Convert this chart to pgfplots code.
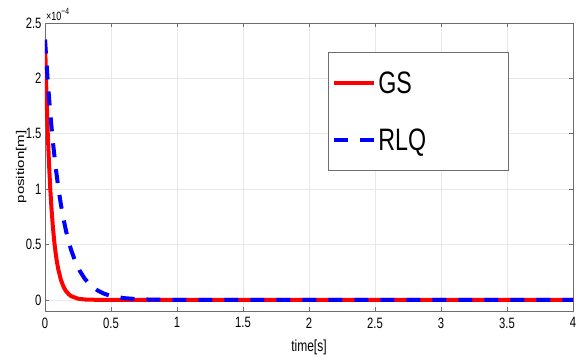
\documentclass[border=0pt]{standalone}
\usepackage{fontspec}
\setmainfont{Liberation Sans}[FakeStretch=0.75]
\newfontfamily\plainfont{Liberation Sans}
\usepackage{pgfplots}
\pgfplotsset{compat=1.18}
\definecolor{axgray}{RGB}{110,110,110}
\begin{document}
\begin{tikzpicture}
\begin{axis}[
  scale only axis, width=528pt, height=288pt,
  xmin=0, xmax=4, ymin=-0.1, ymax=2.5,
  xtick={0,0.5,...,4}, ytick={0,0.5,...,2.5},
  grid=major, major grid style={gray!18, line width=0.6pt},
  axis line style={axgray, line width=0.8pt},
  tick style={axgray, line width=0.8pt}, tick align=inside, major tick length=4pt,
  ticklabel style={font=\fontsize{15}{17}\selectfont},
  /pgf/number format/assume math mode=true,
  xticklabel style={yshift=-3pt},
  xlabel={time[s]}, ylabel={\scalebox{1}[0.75]{position[m]}},
  xlabel style={font=\fontsize{16}{18}\selectfont, at={(axis description cs:0.5,-0.125)}, anchor=center},
  ylabel style={font=\plainfont\fontsize{15}{17}\selectfont, at={(axis description cs:-0.045,0.5)}, anchor=center},
  legend style={at={(rel axis cs:0.536,0.899)}, anchor=north west, draw=axgray, line width=0.8pt, fill=white,
    font=\fontsize{31}{35}\selectfont, inner xsep=4pt, inner ysep=17pt, row sep=30pt, cells={anchor=west}},
  legend image code/.code={\draw[#1] (0pt,0pt) -- (40pt,0pt);},
]
\addplot[red, line width=4pt] coordinates {
(0,2.35) (0.01,1.900) (0.02,1.535) (0.03,1.241) (0.04,1.003) (0.05,0.811)
(0.06,0.655) (0.07,0.530) (0.08,0.428) (0.09,0.346) (0.10,0.280) (0.12,0.183)
(0.14,0.119) (0.16,0.078) (0.18,0.051) (0.20,0.033) (0.25,0.0115) (0.30,0.004)
(0.40,0.0005) (0.5,0) (4,0)};
\addlegendentry{\makebox[124pt][l]{GS}}
\addplot[blue, line width=4pt, dash pattern=on 14pt off 12pt] coordinates {
(0,2.35) (0.02,1.989) (0.04,1.684) (0.06,1.425) (0.08,1.206) (0.10,1.021)
(0.12,0.865) (0.14,0.732) (0.16,0.619) (0.18,0.524) (0.20,0.444) (0.23,0.346)
(0.26,0.269) (0.30,0.193) (0.35,0.127) (0.40,0.084) (0.45,0.055) (0.50,0.036)
(0.6,0.016) (0.7,0.0069) (0.8,0.003) (1.0,0.0006) (1.2,0) (4,0)};
\addlegendentry{\makebox[124pt][l]{RLQ}}
\end{axis}
\node[anchor=south west, inner sep=0pt, font=\fontsize{12}{13}\selectfont] at ([shift={(1pt,2pt)}]current axis.north west) {×10\raisebox{6pt}{\fontsize{9}{9}\selectfont −4}};
\pgfresetboundingbox
\path ([shift={(-45pt,-45pt)}]current axis.south west) rectangle ([shift={(13pt,23pt)}]current axis.north east);
\end{tikzpicture}
\end{document}
